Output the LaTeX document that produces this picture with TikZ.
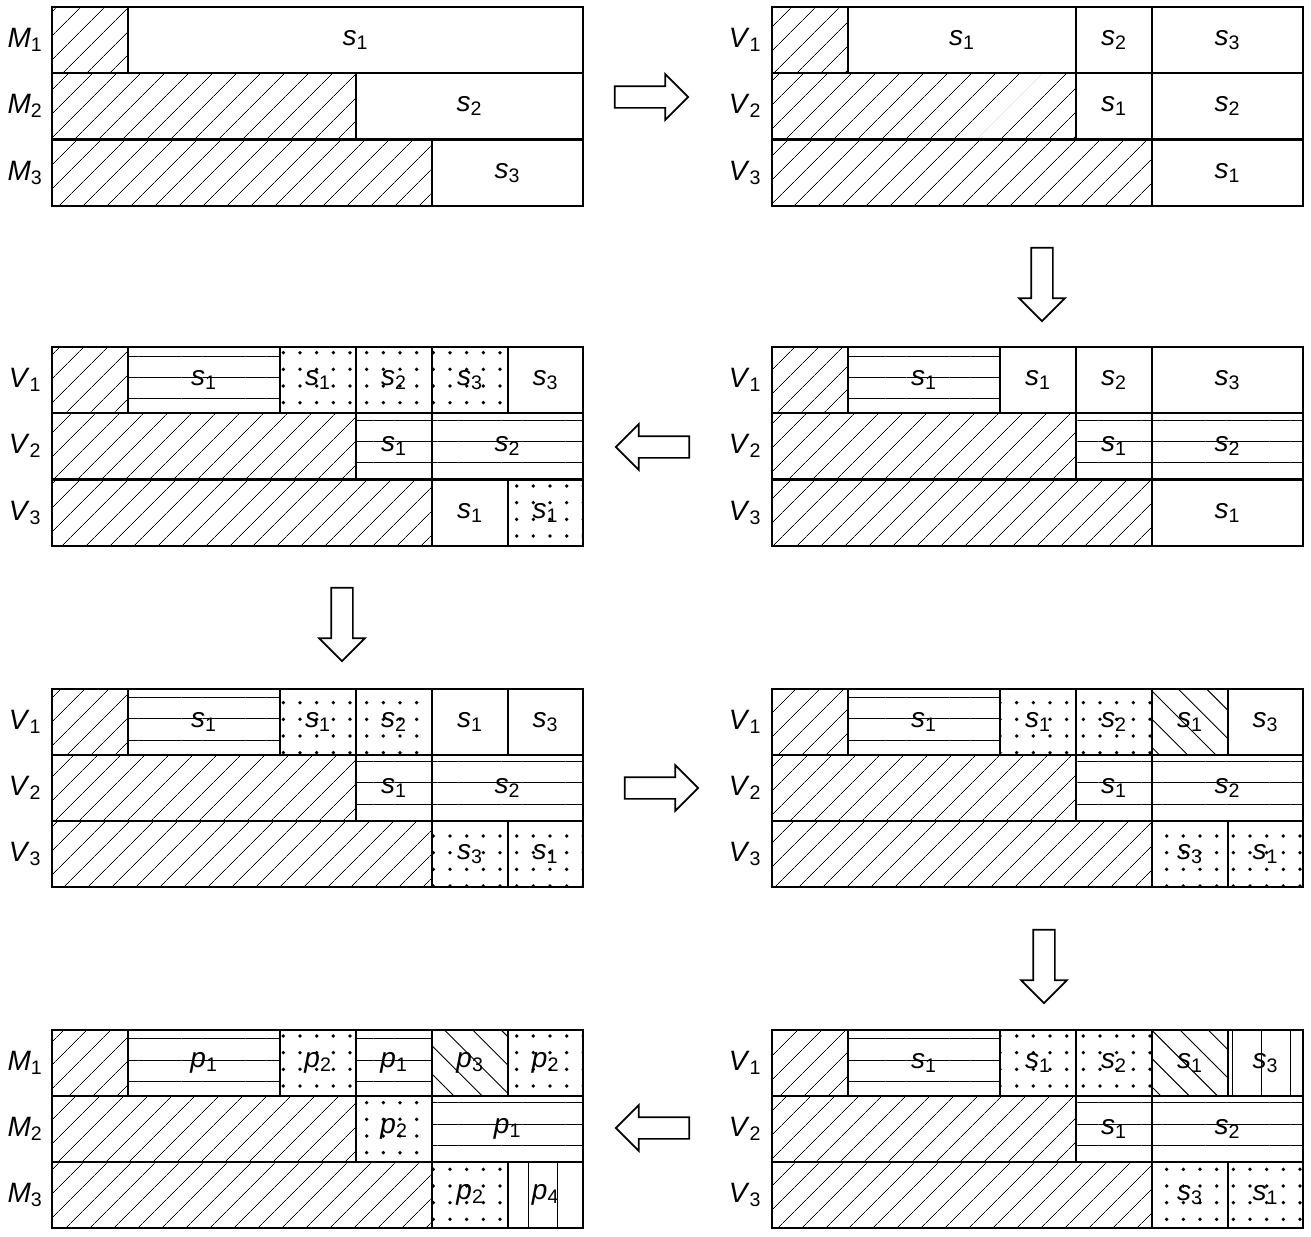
\documentclass[tikz,border=0pt]{standalone}
\usepackage{fontspec}
\setmainfont{Liberation Sans}
\usetikzlibrary{patterns.meta,shapes.arrows}

\newcommand\sv[2]{\textit{#1}\textsubscript{#2}}
% cell: style, x1, x2, top y, text
\newcommand\cellbox[5]{%
  \draw[#1] (#2,#4) rectangle (#3,{#4+66});
  \node[celltext] at ({(#2+#3)/2},{#4+33}) {#5};}

\begin{document}
\begin{tikzpicture}[x=0.75pt,y=-0.75pt,
        box/.style={draw=black, line width=1.3pt},
        hatch/.style={box, pattern={Lines[angle=45,distance=13pt,line width=0.6pt]}},
        hline/.style={box, pattern={Lines[angle=0,distance=16pt,yshift=4pt,line width=0.7pt]}},
        nwline/.style={box, pattern={Lines[angle=-45,distance=15pt,line width=0.7pt]}},
        vline/.style={box, pattern={Lines[angle=90,distance=22pt,line width=0.7pt]}},
        dots/.style={box, pattern={Dots[distance=12.5pt,radius=1.4pt]}},
        celltext/.style={font=\fontsize{21}{24}\selectfont, inner sep=0pt},
        rowlabel/.style={font=\fontsize{21}{24}\selectfont},
        bigarrow/.style={single arrow, draw=black, line width=1.3pt, fill=white,
            minimum height=55pt, minimum width=33pt, single arrow head extend=9pt,
            inner sep=7.5pt, single arrow tip angle=90},
]
\useasboundingbox (0,0) rectangle (1311,1236);

% panel A (top left)
\cellbox{hatch}{52}{128}{7}{}
\cellbox{box}{128}{583}{7}{\sv{s}{1}}
\cellbox{hatch}{52}{356}{73}{}
\cellbox{box}{356}{583}{73}{\sv{s}{2}}
\cellbox{hatch}{52}{432}{140}{}
\cellbox{box}{432}{583}{140}{\sv{s}{3}}

% panel B (top right)
\cellbox{hatch}{772}{848}{7}{}
\cellbox{box}{848}{1076}{7}{\sv{s}{1}}
\cellbox{box}{1076}{1152}{7}{\sv{s}{2}}
\cellbox{box}{1152}{1303}{7}{\sv{s}{3}}
\cellbox{hatch}{772}{1076}{73}{}
\cellbox{box}{1076}{1152}{73}{\sv{s}{1}}
\cellbox{box}{1152}{1303}{73}{\sv{s}{2}}
\cellbox{hatch}{772}{1152}{140}{}
\cellbox{box}{1152}{1303}{140}{\sv{s}{1}}

% panel C (second right)
\cellbox{hatch}{772}{848}{347}{}
\cellbox{hline}{848}{1000}{347}{\sv{s}{1}}
\cellbox{box}{1000}{1076}{347}{\sv{s}{1}}
\cellbox{box}{1076}{1152}{347}{\sv{s}{2}}
\cellbox{box}{1152}{1303}{347}{\sv{s}{3}}
\cellbox{hatch}{772}{1076}{413}{}
\cellbox{hline}{1076}{1152}{413}{\sv{s}{1}}
\cellbox{hline}{1152}{1303}{413}{\sv{s}{2}}
\cellbox{hatch}{772}{1152}{480}{}
\cellbox{box}{1152}{1303}{480}{\sv{s}{1}}

% panel D (second left)
\cellbox{hatch}{52}{128}{347}{}
\cellbox{hline}{128}{280}{347}{\sv{s}{1}}
\cellbox{dots}{280}{356}{347}{\sv{s}{1}}
\cellbox{dots}{356}{432}{347}{\sv{s}{2}}
\cellbox{dots}{432}{508}{347}{\sv{s}{3}}
\cellbox{box}{508}{583}{347}{\sv{s}{3}}
\cellbox{hatch}{52}{356}{413}{}
\cellbox{hline}{356}{432}{413}{\sv{s}{1}}
\cellbox{hline}{432}{583}{413}{\sv{s}{2}}
\cellbox{hatch}{52}{432}{480}{}
\cellbox{box}{432}{508}{480}{\sv{s}{1}}
\cellbox{dots}{508}{583}{480}{\sv{s}{1}}

% panel E (third left)
\cellbox{hatch}{52}{128}{689}{}
\cellbox{hline}{128}{280}{689}{\sv{s}{1}}
\cellbox{dots}{280}{356}{689}{\sv{s}{1}}
\cellbox{dots}{356}{432}{689}{\sv{s}{2}}
\cellbox{box}{432}{508}{689}{\sv{s}{1}}
\cellbox{box}{508}{583}{689}{\sv{s}{3}}
\cellbox{hatch}{52}{356}{755}{}
\cellbox{hline}{356}{432}{755}{\sv{s}{1}}
\cellbox{hline}{432}{583}{755}{\sv{s}{2}}
\cellbox{hatch}{52}{432}{821}{}
\cellbox{dots}{432}{508}{821}{\sv{s}{3}}
\cellbox{dots}{508}{583}{821}{\sv{s}{1}}

% panel F (third right)
\cellbox{hatch}{772}{848}{689}{}
\cellbox{hline}{848}{1000}{689}{\sv{s}{1}}
\cellbox{dots}{1000}{1076}{689}{\sv{s}{1}}
\cellbox{dots}{1076}{1152}{689}{\sv{s}{2}}
\cellbox{nwline}{1152}{1228}{689}{\sv{s}{1}}
\cellbox{box}{1228}{1303}{689}{\sv{s}{3}}
\cellbox{hatch}{772}{1076}{755}{}
\cellbox{hline}{1076}{1152}{755}{\sv{s}{1}}
\cellbox{hline}{1152}{1303}{755}{\sv{s}{2}}
\cellbox{hatch}{772}{1152}{821}{}
\cellbox{dots}{1152}{1228}{821}{\sv{s}{3}}
\cellbox{dots}{1228}{1303}{821}{\sv{s}{1}}

% panel G (bottom right)
\cellbox{hatch}{772}{848}{1030}{}
\cellbox{hline}{848}{1000}{1030}{\sv{s}{1}}
\cellbox{dots}{1000}{1076}{1030}{\sv{s}{1}}
\cellbox{dots}{1076}{1152}{1030}{\sv{s}{2}}
\cellbox{nwline}{1152}{1228}{1030}{\sv{s}{1}}
\cellbox{vline}{1228}{1303}{1030}{\sv{s}{3}}
\cellbox{hatch}{772}{1076}{1096}{}
\cellbox{hline}{1076}{1152}{1096}{\sv{s}{1}}
\cellbox{hline}{1152}{1303}{1096}{\sv{s}{2}}
\cellbox{hatch}{772}{1152}{1162}{}
\cellbox{dots}{1152}{1228}{1162}{\sv{s}{3}}
\cellbox{dots}{1228}{1303}{1162}{\sv{s}{1}}

% panel H (bottom left)
\cellbox{hatch}{52}{128}{1030}{}
\cellbox{hline}{128}{280}{1030}{\sv{p}{1}}
\cellbox{dots}{280}{356}{1030}{\sv{p}{2}}
\cellbox{hline}{356}{432}{1030}{\sv{p}{1}}
\cellbox{nwline}{432}{508}{1030}{\sv{p}{3}}
\cellbox{dots}{508}{583}{1030}{\sv{p}{2}}
\cellbox{hatch}{52}{356}{1096}{}
\cellbox{dots}{356}{432}{1096}{\sv{p}{2}}
\cellbox{hline}{432}{583}{1096}{\sv{p}{1}}
\cellbox{hatch}{52}{432}{1162}{}
\cellbox{dots}{432}{508}{1162}{\sv{p}{2}}
\cellbox{vline}{508}{583}{1162}{\sv{p}{4}}

% row labels
\foreach \i/\y in {1/40,2/106,3/173} {
  \node[rowlabel] (lA\i) at (25,\y) {\sv{M}{\i}};
  \node[rowlabel] (lB\i) at (745,\y) {\sv{V}{\i}};
}
\foreach \i/\y in {1/380,2/446,3/513} {
  \node[rowlabel] (lD\i) at (25,\y) {\sv{V}{\i}};
  \node[rowlabel] (lC\i) at (745,\y) {\sv{V}{\i}};
}
\foreach \i/\y in {1/722,2/788,3/854} {
  \node[rowlabel] (lE\i) at (25,\y) {\sv{V}{\i}};
  \node[rowlabel] (lF\i) at (745,\y) {\sv{V}{\i}};
}
\foreach \i/\y in {1/1063,2/1129,3/1195} {
  \node[rowlabel] (lH\i) at (25,\y) {\sv{M}{\i}};
  \node[rowlabel] (lG\i) at (745,\y) {\sv{V}{\i}};
}

% step arrows
\node[bigarrow] (stepAB) at (646,97) {};
\node[bigarrow, shape border rotate=270] (stepBC) at (1042,279) {};
\node[bigarrow, shape border rotate=180] (stepCD) at (658,447) {};
\node[bigarrow, shape border rotate=270] (stepDE) at (342,619) {};
\node[bigarrow] (stepEF) at (656,788) {};
\node[bigarrow, shape border rotate=270] (stepFG) at (1044,961) {};
\node[bigarrow, shape border rotate=180] (stepGH) at (658,1128) {};
\end{tikzpicture}
\end{document}
